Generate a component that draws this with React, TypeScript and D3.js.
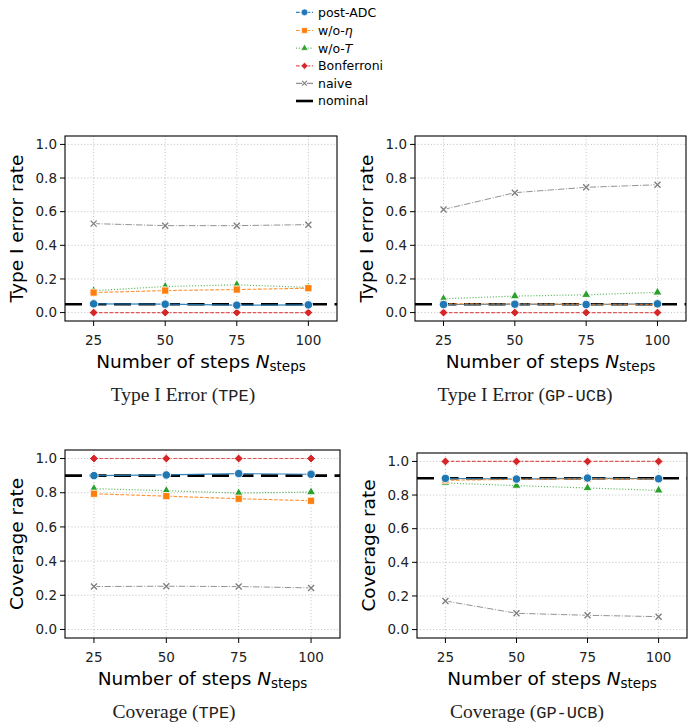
import React from "react";
import * as d3 from "d3";

const W = 696;
const H = 728;

const steps = [25, 50, 75, 100];
const yTicks = [0, 0.2, 0.4, 0.6, 0.8, 1.0];

// Type I error, TPE
const t1TpePost = [0.052, 0.05, 0.044, 0.046];
const t1TpeNoEta = [0.119, 0.131, 0.137, 0.145];
const t1TpeNoT = [0.13, 0.155, 0.165, 0.15];
const t1TpeBonf = [0, 0, 0, 0];
const t1TpeNaive = [0.529, 0.517, 0.517, 0.523];

// Type I error, GP-UCB
const t1GpPost = [0.048, 0.05, 0.048, 0.052];
const t1GpNoEta = [0.052, 0.051, 0.05, 0.049];
const t1GpNoT = [0.082, 0.098, 0.106, 0.12];
const t1GpBonf = [0, 0, 0, 0];
const t1GpNaive = [0.613, 0.713, 0.745, 0.76];

// Coverage, TPE
const covTpePost = [0.9, 0.904, 0.912, 0.908];
const covTpeNoEta = [0.794, 0.78, 0.765, 0.753];
const covTpeNoT = [0.824, 0.812, 0.798, 0.804];
const covTpeBonf = [1, 1, 1, 1];
const covTpeNaive = [0.251, 0.253, 0.251, 0.243];

// Coverage, GP-UCB
const covGpPost = [0.899, 0.895, 0.901, 0.897];
const covGpNoEta = [0.888, 0.893, 0.897, 0.895];
const covGpNoT = [0.872, 0.856, 0.842, 0.828];
const covGpBonf = [1, 1, 1, 1];
const covGpNaive = [0.17, 0.097, 0.085, 0.077];

const methodNames = ["post-ADC", "w/o-η", "w/o-T", "Bonferroni", "naive"];
const nominalType1 = 0.05;
const nominalCoverage = 0.9;

type Style = {
  color: string;
  dash: string | null;
  marker: "circle" | "square" | "triangle" | "diamond" | "x";
  width: number;
  opacity: number;
};

const styles: Style[] = [
  { color: "#1f77b4", dash: null, marker: "circle", width: 1.2, opacity: 0.9 },
  { color: "#ff7f0e", dash: "3.7,1.6", marker: "square", width: 1.1, opacity: 0.85 },
  { color: "#2ca02c", dash: "1.1,1.8", marker: "triangle", width: 1.2, opacity: 0.75 },
  { color: "#d62728", dash: "3.7,1.6", marker: "diamond", width: 1.1, opacity: 0.75 },
  { color: "#7f7f7f", dash: "6.4,1.6,1,1.6", marker: "x", width: 1.0, opacity: 0.85 },
];

const FONT = "'DejaVu Sans', sans-serif";
const SERIF = "'Liberation Serif', 'DejaVu Serif', serif";
const MONO = "'Liberation Mono', 'DejaVu Sans Mono', monospace";

function Marker({ kind, x, y, color, scale = 1 }: { kind: Style["marker"]; x: number; y: number; color: string; scale?: number }) {
  if (kind === "x") {
    const r = 3 * scale;
    const d = `M${-r},${-r}L${r},${r}M${-r},${r}L${r},${-r}`;
    return (
      <g transform={`translate(${x},${y})`}>
        <path d={d} stroke="#fff" strokeWidth={3.2 * scale} fill="none" />
        <path d={d} stroke={color} strokeWidth={1.4 * scale} fill="none" />
      </g>
    );
  }
  let path = "";
  let rot = 0;
  if (kind === "circle") path = d3.symbol(d3.symbolCircle, 56 * scale * scale)() || "";
  if (kind === "square") path = d3.symbol(d3.symbolSquare, 52 * scale * scale)() || "";
  if (kind === "triangle") path = d3.symbol(d3.symbolTriangle, 36 * scale * scale)() || "";
  if (kind === "diamond") {
    path = d3.symbol(d3.symbolSquare, 40 * scale * scale)() || "";
    rot = 45;
  }
  return (
    <path
      d={path}
      transform={`translate(${x},${y}) rotate(${rot})`}
      fill={color}
      stroke="#fff"
      strokeWidth={0.9 * scale}
    />
  );
}

type PanelProps = {
  left: number;
  right: number;
  top: number;
  bottom: number;
  series: number[][];
  nominal: number;
  ylabel: string;
  captionMain: string;
  captionAlg: string;
  captionX: number;
};

function Panel(p: PanelProps) {
  const x = d3.scaleLinear().domain([15, 110]).range([p.left, p.right]);
  const y = d3.scaleLinear().domain([-0.05, 1.05]).range([p.bottom, p.top]);
  const line = d3
    .line<number>()
    .x((_, i) => x(steps[i]))
    .y((v) => y(v));
  const cx = (p.left + p.right) / 2;
  const cy = (p.top + p.bottom) / 2;
  return (
    <g>
      {/* grid */}
      {yTicks.map((t) => (
        <line key={"gy" + t} x1={p.left} x2={p.right} y1={y(t)} y2={y(t)} stroke="#b0b0b0" strokeWidth={0.8} strokeDasharray="1,2.2" />
      ))}
      {steps.map((t) => (
        <line key={"gx" + t} x1={x(t)} x2={x(t)} y1={p.top} y2={p.bottom} stroke="#b0b0b0" strokeWidth={0.8} strokeDasharray="1,2.2" />
      ))}
      {/* nominal level */}
      <line x1={p.left} x2={p.right} y1={y(p.nominal)} y2={y(p.nominal)} stroke="#000" strokeWidth={2.6} strokeDasharray="17,7.5" />
      {/* series lines */}
      {p.series.map((vals, i) => (
        <path
          key={"l" + i}
          d={line(vals) || ""}
          fill="none"
          stroke={styles[i].color}
          strokeWidth={styles[i].width}
          strokeDasharray={styles[i].dash || undefined}
          opacity={styles[i].opacity}
        />
      ))}
      {/* markers, drawn in reverse so post-ADC sits on top */}
      {p.series
        .map((vals, i) => ({ vals, i }))
        .reverse()
        .map(({ vals, i }) =>
          vals.map((v, j) => <Marker key={`m${i}-${j}`} kind={styles[i].marker} x={x(steps[j])} y={y(v)} color={styles[i].color} />)
        )}
      {/* frame */}
      <rect x={p.left} y={p.top} width={p.right - p.left} height={p.bottom - p.top} fill="none" stroke="#000" strokeWidth={1.1} />
      {/* y axis */}
      {yTicks.map((t) => (
        <g key={"yt" + t}>
          <line x1={p.left - 5} x2={p.left} y1={y(t)} y2={y(t)} stroke="#000" strokeWidth={1} />
          <text x={p.left - 8} y={y(t)} dy="0.35em" textAnchor="end" fontSize={13.5} fontFamily={FONT} fill="#222">
            {t.toFixed(1)}
          </text>
        </g>
      ))}
      {/* x axis */}
      {steps.map((t) => (
        <g key={"xt" + t}>
          <line x1={x(t)} x2={x(t)} y1={p.bottom} y2={p.bottom + 5} stroke="#000" strokeWidth={1} />
          <text x={x(t)} y={p.bottom + 19} dy="0.35em" textAnchor="middle" fontSize={13.5} fontFamily={FONT} fill="#222">
            {t}
          </text>
        </g>
      ))}
      <text x={cx} y={p.bottom + 47} textAnchor="middle" fontSize={18.5} fontFamily={FONT} fill="#000">
        Number of steps <tspan fontStyle="italic">N</tspan>
        <tspan fontSize={13.5} dy={3}>steps</tspan>
      </text>
      <text
        transform={`translate(${p.left - 48},${cy}) rotate(-90)`}
        textAnchor="middle"
        dy="0.35em"
        fontSize={18.5}
        fontFamily={FONT}
        fill="#000"
      >
        {p.ylabel}
      </text>
      <text x={p.captionX} y={p.bottom + 80} textAnchor="middle" fontSize={19.5} fontFamily={SERIF} fill="#222">
        {p.captionMain} (<tspan fontFamily={MONO} fontSize={17}>{p.captionAlg}</tspan>)
      </text>
    </g>
  );
}

function Legend() {
  const x0 = 296;
  const x1 = 313;
  const rows = [12.3, 30.5, 48.2, 65.8, 83.3, 101];
  return (
    <g>
      {methodNames.map((name, i) => {
        const s = styles[i];
        const yy = rows[i];
        return (
          <g key={name}>
            <line x1={x0} x2={x1} y1={yy} y2={yy} stroke={s.color} strokeWidth={1.2} strokeDasharray={s.dash || "3.7,1.6"} opacity={s.opacity} />
            <Marker kind={s.marker} x={(x0 + x1) / 2} y={yy} color={s.color} scale={0.8} />
            <text x={318} y={yy} dy="0.35em" fontSize={12.5} fontFamily={FONT} fill="#000">
              {i === 1 ? (
                <>
                  w/o-<tspan fontStyle="italic">η</tspan>
                </>
              ) : i === 2 ? (
                <>
                  w/o-<tspan fontStyle="italic">T</tspan>
                </>
              ) : (
                name
              )}
            </text>
          </g>
        );
      })}
      <line x1={x0} x2={x1} y1={rows[5]} y2={rows[5]} stroke="#000" strokeWidth={2.6} />
      <text x={318} y={rows[5]} dy="0.35em" fontSize={12.5} fontFamily={FONT} fill="#000">
        nominal
      </text>
    </g>
  );
}

export default function App() {
  return (
    <svg
      width={W}
      height={H}
      viewBox={`0 0 ${W} ${H}`}
      style={{ position: "absolute", left: 0, top: 0, display: "block", background: "#fff" }}
    >
      <rect x={0} y={0} width={W} height={H} fill="#fff" />
      <Legend />
      <Panel
        left={65}
        right={337}
        top={136}
        bottom={321}
        series={[t1TpePost, t1TpeNoEta, t1TpeNoT, t1TpeBonf, t1TpeNaive]}
        nominal={nominalType1}
        ylabel="Type I error rate"
        captionMain="Type I Error"
        captionAlg="TPE"
        captionX={183}
      />
      <Panel
        left={415}
        right={686}
        top={136}
        bottom={321}
        series={[t1GpPost, t1GpNoEta, t1GpNoT, t1GpBonf, t1GpNaive]}
        nominal={nominalType1}
        ylabel="Type I error rate"
        captionMain="Type I Error"
        captionAlg="GP-UCB"
        captionX={525}
      />
      <Panel
        left={65}
        right={340}
        top={450}
        bottom={638}
        series={[covTpePost, covTpeNoEta, covTpeNoT, covTpeBonf, covTpeNaive]}
        nominal={nominalCoverage}
        ylabel="Coverage rate"
        captionMain="Coverage"
        captionAlg="TPE"
        captionX={174}
      />
      <Panel
        left={417}
        right={687}
        top={453}
        bottom={638}
        series={[covGpPost, covGpNoEta, covGpNoT, covGpBonf, covGpNaive]}
        nominal={nominalCoverage}
        ylabel="Coverage rate"
        captionMain="Coverage"
        captionAlg="GP-UCB"
        captionX={527}
      />
    </svg>
  );
}
